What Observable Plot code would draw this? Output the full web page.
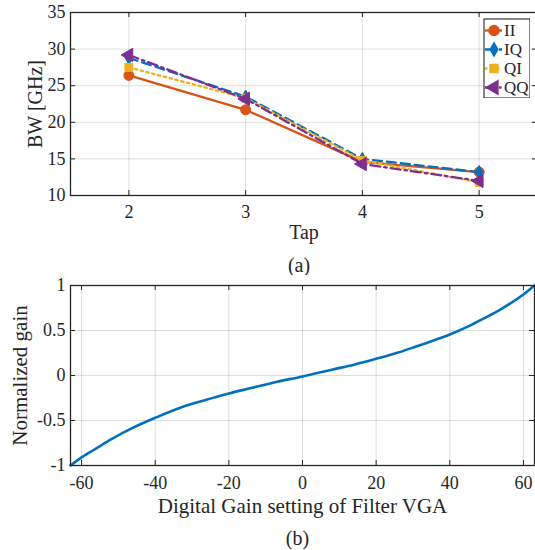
<!DOCTYPE html>
<html>
<head>
<meta charset="utf-8">
<script src="https://cdn.jsdelivr.net/npm/d3@7"></script>
<script src="https://cdn.jsdelivr.net/npm/@observablehq/plot@0.6"></script>
<style>
  html, body { margin: 0; padding: 0; background: #fff; }
  #wrap { position: relative; width: 535px; height: 550px; overflow: hidden; background: #fff; }
  #wrap svg { display: block; }
  #legend { position: absolute; left: 483px; top: 18px; }
</style>
</head>
<body>
<div id="wrap"><div id="legend"></div></div>
<script>
// ---- (a) bandwidth versus number of taps ----
const taps = [2, 3, 4, 5];
const seriesNames = ["II", "IQ", "QI", "QQ"];
const bwII = [26.4, 21.7, 14.6, 13.2];
const bwIQ = [28.8, 23.5, 15.0, 13.2];
const bwQI = [27.5, 23.3, 14.8, 11.8];
const bwQQ = [29.2, 23.2, 14.3, 12.0];
const bwTicks = [10, 15, 20, 25, 30, 35];

// ---- (b) normalized gain versus digital gain setting ----
const gainSetting = [-63, -60, -56, -52, -46, -40, -33, -27, -20, -14, -8, 0, 8, 14, 20, 26, 31, 36, 40, 45, 49, 53, 56, 60, 63];
const normGain = [-1, -0.91, -0.81, -0.71, -0.58, -0.47, -0.355, -0.28, -0.2, -0.14, -0.08, -0.01, 0.065, 0.12, 0.185, 0.255, 0.325, 0.395, 0.455, 0.545, 0.63, 0.715, 0.79, 0.9, 1.0];
const settingTicks = [-60, -40, -20, 0, 20, 40, 60];
const gainTicks = [-1, -0.5, 0, 0.5, 1];

// series styling
const seriesColors = ["#D95319", "#0072BD", "#EDB120", "#7E2F8E"];
const seriesDash = [null, "9,5", "2.5,3.5", "10,4,2.5,4"];
const seriesSymbols = ["circle", "diamond", "square", "triangle"];
const seriesRotate = [0, 0, 0, -90];
const seriesR = [5, 4, 4.5, 5];

const FONT = "'Liberation Serif', 'Times New Roman', serif";
const INK = "#262626";
const GRID = { stroke: "#000", strokeOpacity: 0.13, strokeWidth: 1 };

const bwSeries = [bwII, bwIQ, bwQI, bwQQ];
const bwRows = seriesNames.map((name, k) => taps.map((t, i) => ({ tap: t, bw: bwSeries[k][i], series: name })));
const gainRows = gainSetting.map((s, i) => ({ setting: s, gain: normGain[i] }));

const fmt = d => String(d);
const LABEL = { fontSize: 20, fill: INK, textAnchor: "middle", lineAnchor: "middle" };

// inward MATLAB-style ticks on all four sides of the box
function boxTicks(xt, yt, fw, fh) {
  const t = { stroke: INK, strokeWidth: 1 };
  return [
    Plot.tickX(xt, { x: d => d, insetTop: fh - 5, ...t }),
    Plot.tickX(xt, { x: d => d, insetBottom: fh - 5, ...t }),
    Plot.tickY(yt, { y: d => d, insetRight: fw - 5, ...t }),
    Plot.tickY(yt, { y: d => d, insetLeft: fw - 5, ...t })
  ];
}

// ---- panel (a) ----
const A = { w: 535, h: 275, ml: 70, mr: -2, mt: 12, mb: 80 };
const aFW = A.w - A.ml - A.mr, aFH = A.h - A.mt - A.mb;
const panelA = Plot.plot({
  width: A.w, height: A.h,
  marginLeft: A.ml, marginRight: A.mr, marginTop: A.mt, marginBottom: A.mb,
  style: { fontFamily: FONT, fontSize: "18px", color: INK, background: "#fff" },
  x: { domain: [1.5, 5.5] },
  y: { domain: [10, 35] },
  marks: [
    Plot.gridX(taps, GRID),
    Plot.gridY(bwTicks, GRID),
    ...boxTicks(taps, bwTicks, aFW, aFH),
    Plot.axisX(taps, { tickSize: 0, tickPadding: 10, label: null, tickFormat: fmt, fontSize: 18 }),
    Plot.axisY(bwTicks, { tickSize: 0, tickPadding: 5, label: null, tickFormat: fmt, fontSize: 18 }),
    Plot.text(["Tap"], { frameAnchor: "bottom", dy: 37, ...LABEL }),
    Plot.text(["(a)"], { frameAnchor: "bottom", dy: 70, dx: -5, ...LABEL }),
    Plot.text(["BW [GHz]"], { frameAnchor: "left", dx: -35, rotate: -90, ...LABEL }),
    ...bwRows.flatMap((rows, k) => [
      Plot.line(rows, { x: "tap", y: "bw", stroke: seriesColors[k], strokeWidth: 2.3, strokeDasharray: seriesDash[k] }),
      Plot.dot(rows, { x: "tap", y: "bw", symbol: seriesSymbols[k], r: seriesR[k], rotate: seriesRotate[k], fill: seriesColors[k], stroke: seriesColors[k], strokeWidth: 1 })
    ]),
    Plot.frame({ stroke: INK, strokeWidth: 1.3 })
  ]
});

// ---- panel (b) ----
const B = { w: 535, h: 275, ml: 70, mr: 1, mt: 10, mb: 85 };
const bFW = B.w - B.ml - B.mr, bFH = B.h - B.mt - B.mb;
const panelB = Plot.plot({
  width: B.w, height: B.h,
  marginLeft: B.ml, marginRight: B.mr, marginTop: B.mt, marginBottom: B.mb,
  style: { fontFamily: FONT, fontSize: "18px", color: INK, background: "#fff" },
  x: { domain: [-63, 63] },
  y: { domain: [-1, 1] },
  marks: [
    Plot.gridX(settingTicks, GRID),
    Plot.gridY(gainTicks, GRID),
    ...boxTicks(settingTicks, gainTicks, bFW, bFH),
    Plot.axisX(settingTicks, { tickSize: 0, tickPadding: 11, label: null, tickFormat: fmt, fontSize: 18 }),
    Plot.axisY(gainTicks, { tickSize: 0, tickPadding: 5, label: null, tickFormat: fmt, fontSize: 18 }),
    Plot.text(["Digital Gain setting of Filter VGA"], { frameAnchor: "bottom", dy: 41, ...LABEL, fontSize: 21 }),
    Plot.text(["(b)"], { frameAnchor: "bottom", dy: 73, dx: -5, ...LABEL }),
    Plot.text(["Normalized gain"], { frameAnchor: "left", dx: -50, rotate: -90, ...LABEL, fontSize: 21 }),
    Plot.line(gainRows, { x: "setting", y: "gain", stroke: "#0072BD", strokeWidth: 2.6, curve: "monotone-x" }),
    Plot.frame({ stroke: INK, strokeWidth: 1.3 })
  ]
});

// ---- legend for panel (a) ----
const legendPlot = Plot.plot({
  width: 47, height: 80, margin: 0,
  style: { fontFamily: FONT, fontSize: "17px", color: INK, background: "transparent" },
  x: { domain: [0, 1], range: [2, 19], axis: null },
  y: { type: "point", domain: seriesNames, range: [12, 69], padding: 0, axis: null },
  marks: [
    Plot.frame({ stroke: INK, strokeWidth: 1.1, fill: "#fff", inset: 0.5 }),
    ...seriesNames.flatMap((name, k) => [
      Plot.ruleY([name], { y: d => d, x1: 0, x2: 1, stroke: seriesColors[k], strokeWidth: 2.3, strokeDasharray: seriesDash[k] }),
      Plot.dot([name], { x: 0.5, y: d => d, symbol: seriesSymbols[k], r: seriesR[k], rotate: seriesRotate[k], fill: seriesColors[k], stroke: seriesColors[k] }),
      Plot.text([name], { x: 1, y: d => d, text: d => d, textAnchor: "start", lineAnchor: "middle", dx: 1.5, fontSize: 17, fill: INK })
    ])
  ]
});

const wrap = document.getElementById("wrap");
wrap.insertBefore(panelA, wrap.firstChild);
wrap.insertBefore(panelB, document.getElementById("legend"));
document.getElementById("legend").appendChild(legendPlot);
</script>
</body>
</html>
